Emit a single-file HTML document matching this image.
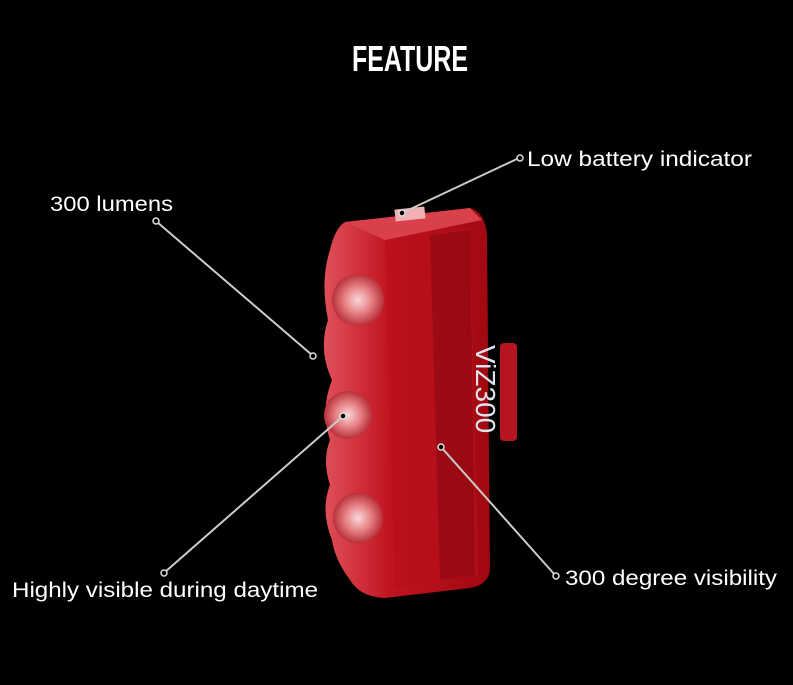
<!DOCTYPE html>
<html><head><style>
body{margin:0;background:#000;width:793px;height:680px;overflow:hidden}
</style></head><body>
<svg width="793" height="680" viewBox="0 0 793 680" xmlns="http://www.w3.org/2000/svg">
<defs>
<linearGradient id="g1" x1="0" y1="0" x2="1" y2="0">
<stop offset="0" stop-color="#e0505a"/><stop offset="0.4" stop-color="#c01420"/><stop offset="1" stop-color="#a00810"/>
</linearGradient>
<radialGradient id="lens"><stop offset="0" stop-color="#f8d8d8"/><stop offset="0.5" stop-color="#e88488"/><stop offset="1" stop-color="#b8303a"/></radialGradient>
</defs>
<text x="352" y="71" fill="#fff" font-family="Liberation Sans, sans-serif" font-weight="bold" font-size="36" textLength="116" lengthAdjust="spacingAndGlyphs">FEATURE</text>
<rect x="500" y="343" width="17" height="98" rx="4" fill="#b51520"/>
<path d="M345 222 L470 208 Q485 212 487 235 L490 570 Q488 585 470 588 L385 598 Q360 597 350 580 Q335 560 332 540 Q320 510 330 485 Q322 460 330 440 Q320 410 332 380 Q318 350 328 320 Q320 280 330 250 Q335 228 345 222 Z" fill="url(#g1)"/>
<path d="M385 240 L470 228 L478 575 L395 588 Z" fill="#b8101a" opacity="0.7"/>
<path d="M430 235 L470 230 L475 575 L440 580 Z" fill="#8a0610" opacity="0.6"/>
<path d="M345 222 L470 208 L482 220 L385 240 Z" fill="#d8404a"/>
<rect x="395" y="208" width="30" height="12" fill="#f0b0b4" transform="rotate(-6 410 214)"/>
<circle cx="358" cy="300" r="26" fill="url(#lens)"/>
<circle cx="348" cy="415" r="24" fill="url(#lens)"/>
<circle cx="358" cy="518" r="25" fill="url(#lens)"/>
<text x="476" y="345" fill="#dde4ee" font-family="Liberation Sans, sans-serif" font-size="28" transform="rotate(90 476 345)">ViZ300</text>
<g stroke="#ccc" stroke-width="2" fill="none">
<line x1="519" y1="158" x2="402" y2="213"/>
<line x1="157" y1="222" x2="312" y2="355"/>
<line x1="165" y1="572" x2="342" y2="417"/>
<line x1="441" y1="447" x2="555" y2="575"/>
</g>
<g fill="#000" stroke="#ddd" stroke-width="1.5">
<circle cx="520" cy="158" r="3"/><circle cx="402" cy="213" r="3"/>
<circle cx="156" cy="221" r="3"/><circle cx="313" cy="356" r="3"/>
<circle cx="164" cy="573" r="3"/><circle cx="343" cy="416" r="3"/>
<circle cx="441" cy="447" r="3"/><circle cx="556" cy="576" r="3"/>
</g>
<g fill="#fff" font-family="Liberation Sans, sans-serif" font-size="21">
<text x="527" y="166" textLength="225" lengthAdjust="spacingAndGlyphs">Low battery indicator</text>
<text x="50" y="211" textLength="123" lengthAdjust="spacingAndGlyphs">300 lumens</text>
<text x="12" y="597" textLength="306" lengthAdjust="spacingAndGlyphs">Highly visible during daytime</text>
<text x="565" y="585" textLength="212" lengthAdjust="spacingAndGlyphs">300 degree visibility</text>
</g>
</svg>
</body></html>
